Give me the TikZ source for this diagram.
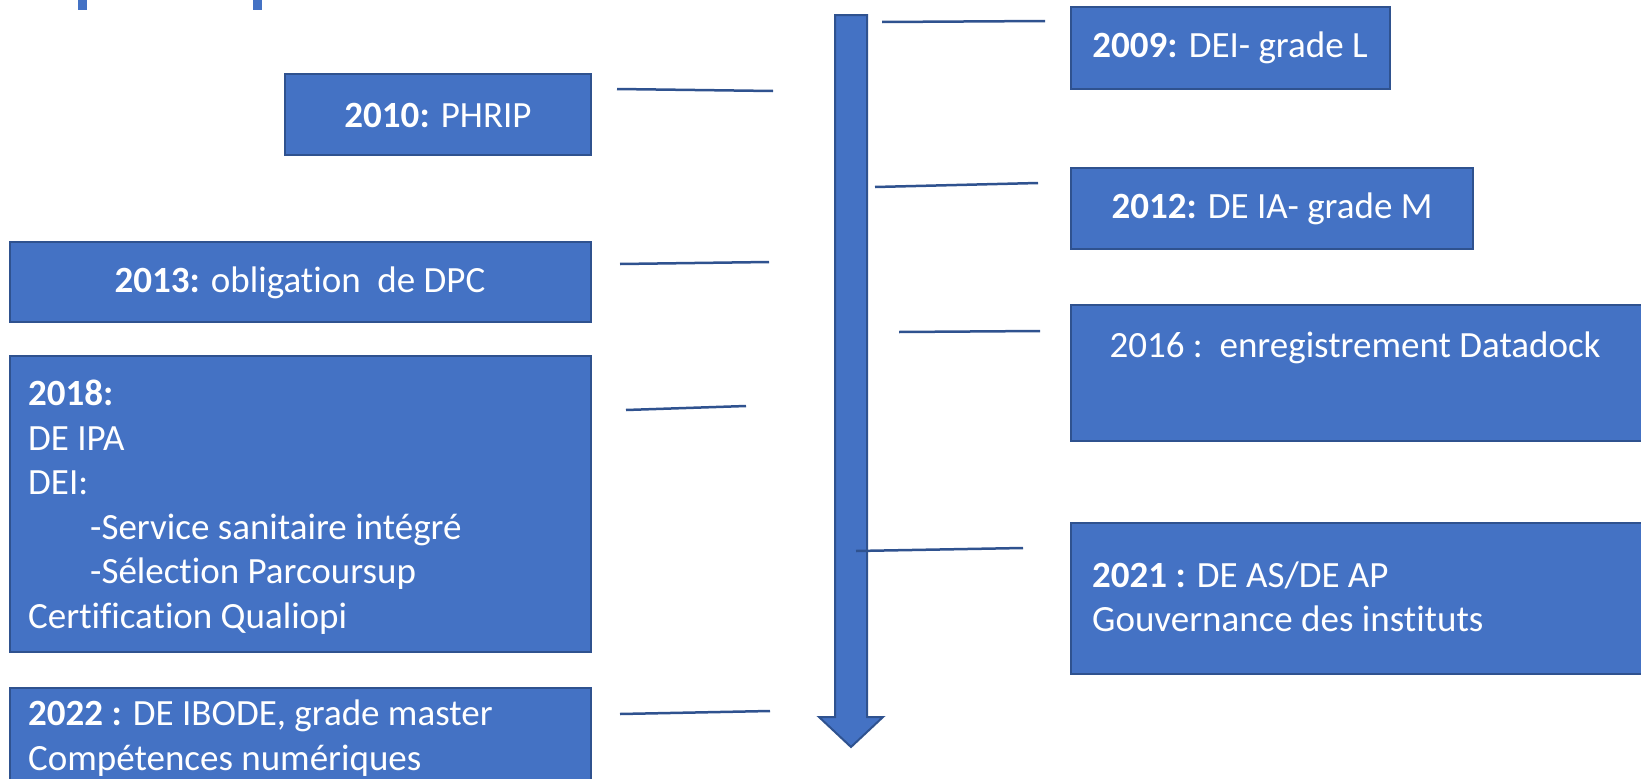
\documentclass[tikz,border=0pt]{standalone}
\usepackage{fontspec}
\setmainfont[Ligatures={NoCommon,NoRare,NoContextual}]{Carlito}
\definecolor{boxfill}{HTML}{4472C4}
\definecolor{boxedge}{HTML}{2F528F}
\begin{document}
\begin{tikzpicture}[x=1pt,y=-1pt,
  event/.style={draw=boxedge,fill=boxfill,line width=2.5pt},
  txt/.style={text=white,inner sep=0pt,font=\fontsize{37}{44.5}\selectfont},
  tick/.style={draw=boxedge,line width=2.5pt}]
\useasboundingbox (0,0) rectangle (1641,779);

% fragments of the heading above the page edge
\fill[boxfill] (78,0) rectangle (87,10);
\fill[boxfill] (253,0) rectangle (262,10);

% time axis
\draw[event,line width=2pt,line join=miter]
  (835,15) -- (867,15) -- (867,717) -- (883,717) -- (851,747)
  -- (819,717) -- (835,717) -- cycle;

% event boxes, left side
\draw[event] (285,74) rectangle (591,155);
\node[txt] (e2010) at (438,115) {\textbf{2010:} PHRIP};

\draw[event] (10,242) rectangle (591,322);
\node[txt] (e2013) at (300,283) {\textbf{2013:} obligation\ \ de DPC};

\draw[event] (10,356) rectangle (591,652);
\node[txt,anchor=west,align=left] (e2018) at (28,507)
  {\textbf{2018:}\\DE IPA\\DEI:\\\hspace*{62pt}-Service sanitaire intégré\\\hspace*{62pt}-Sélection Parcoursup\\Certification Qualiopi};

\draw[event] (10,688) rectangle (591,790);
\node[txt,anchor=west,align=left] (e2022) at (28,738)
  {\textbf{2022 :} DE IBODE, grade master\\Compétences numériques};

% event boxes, right side
\draw[event] (1071,7) rectangle (1390,89);
\node[txt] (e2009) at (1230,48) {\textbf{2009:} DEI- grade L};

\draw[event] (1071,168) rectangle (1473,249);
\node[txt] (e2012) at (1272,209) {\textbf{2012:} DE IA- grade M};

\draw[event] (1071,305) rectangle (1650,441);
\node[txt] (e2016) at (1355,348) {2016 :\ \ enregistrement Datadock};

\draw[event] (1071,523) rectangle (1650,674);
\node[txt,anchor=west,align=left] (e2021) at (1092,597)
  {\textbf{2021 :} DE AS/DE AP\\Gouvernance des instituts};

% ticks between the axis and the boxes
\coordinate (t09a) at (882,22);  \coordinate (t09b) at (1045,21);
\coordinate (t10a) at (617,89);  \coordinate (t10b) at (773,91);
\coordinate (t12a) at (875,187); \coordinate (t12b) at (1038,183);
\coordinate (t13a) at (620,264); \coordinate (t13b) at (769,262);
\coordinate (t16a) at (899,332); \coordinate (t16b) at (1040,331);
\coordinate (t18a) at (626,410); \coordinate (t18b) at (746,406);
\coordinate (t21a) at (856,551); \coordinate (t21b) at (1023,548);
\coordinate (t22a) at (620,714); \coordinate (t22b) at (770,711);
\foreach \y in {09,10,12,13,16,18,21,22}
  \draw[tick] (t\y a) -- (t\y b);
\end{tikzpicture}
\end{document}
